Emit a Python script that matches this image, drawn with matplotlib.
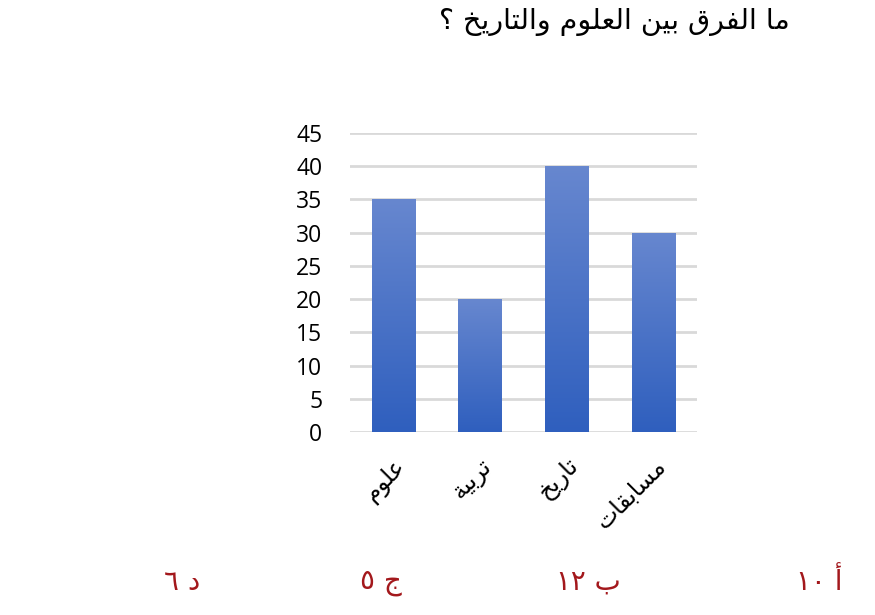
import matplotlib
matplotlib.use("Agg")
import matplotlib.pyplot as plt
import numpy as np

# data
categories = ["علوم", "تربية", "تاريخ", "مسابقات"]
values = [35, 20, 40, 30]
yticks = list(range(0, 50, 5))
title = "ما الفرق بين العلوم والتاريخ ؟"
options = [("أ", "١٠"), ("ب", "١٢"), ("ج", "٥"), ("د", "٦")]

# presentation forms: isolated, final, initial, medial (None = no joining to next)
FORMS = {
    "ا": (0xFE8D, 0xFE8E, None, None),
    "أ": (0xFE83, 0xFE84, None, None),
    "ب": (0xFE8F, 0xFE90, 0xFE91, 0xFE92),
    "ة": (0xFE93, 0xFE94, None, None),
    "ت": (0xFE95, 0xFE96, 0xFE97, 0xFE98),
    "ج": (0xFE9D, 0xFE9E, 0xFE9F, 0xFEA0),
    "خ": (0xFEA5, 0xFEA6, 0xFEA7, 0xFEA8),
    "د": (0xFEA9, 0xFEAA, None, None),
    "ر": (0xFEAD, 0xFEAE, None, None),
    "س": (0xFEB1, 0xFEB2, 0xFEB3, 0xFEB4),
    "ع": (0xFEC9, 0xFECA, 0xFECB, 0xFECC),
    "ف": (0xFED1, 0xFED2, 0xFED3, 0xFED4),
    "ق": (0xFED5, 0xFED6, 0xFED7, 0xFED8),
    "ل": (0xFEDD, 0xFEDE, 0xFEDF, 0xFEE0),
    "م": (0xFEE1, 0xFEE2, 0xFEE3, 0xFEE4),
    "ن": (0xFEE5, 0xFEE6, 0xFEE7, 0xFEE8),
    "و": (0xFEED, 0xFEEE, None, None),
    "ي": (0xFEF1, 0xFEF2, 0xFEF3, 0xFEF4),
}


def shape(text):
    # joins arabic letters and flips to visual order (no bidi lib offline)
    out = []
    for i, ch in enumerate(text):
        if ch not in FORMS:
            out.append(ch)
            continue
        prev = text[i - 1] if i > 0 else ""
        nxt = text[i + 1] if i + 1 < len(text) else ""
        jp = prev in FORMS and FORMS[prev][2] is not None
        jn = FORMS[ch][2] is not None and nxt in FORMS
        iso, fin, ini, med = FORMS[ch]
        if jp and jn:
            code = med
        elif jp:
            code = fin
        elif jn:
            code = ini
        else:
            code = iso
        out.append(chr(code))
    return "".join(reversed(out))


plt.rcParams['font.family'] = ['Open Sans', 'DejaVu Sans']

fig = plt.figure(figsize=(8.75, 6.15), dpi=100)
ax = fig.add_axes([0.4, 0.2976, 0.3966, 0.4861])

x = np.arange(len(categories))
bars = ax.bar(x, values, width=0.5, color="#4472c4", zorder=2)

# vertical gradient inside every bar
grad = np.linspace(0, 1, 256).reshape(-1, 1)
cmap = matplotlib.colors.LinearSegmentedColormap.from_list("g", ["#2f5fbe", "#6787cf"])
for b in bars:
    x0, y0, w, h = b.get_x(), b.get_y(), b.get_width(), b.get_height()
    im = ax.imshow(grad, extent=[x0, x0 + w, y0, y0 + h], origin="lower",
                   cmap=cmap, aspect="auto", zorder=3)
    im.set_clip_path(b)

ax.set_xlim(-0.5, len(categories) - 0.5)
ax.set_ylim(0, 45)
ax.set_yticks(yticks)
ax.yaxis.grid(True, color="#d9d9d9", linewidth=2, zorder=0)
for s in ax.spines.values():
    s.set_visible(False)
ax.tick_params(axis="y", length=0, pad=20, labelsize=16.5)
ax.tick_params(axis="x", length=0, pad=16)
ax.set_xticks(x)
ax.set_xticklabels([shape(c) for c in categories], rotation=45, ha="right",
                   rotation_mode="anchor", fontsize=17, family=['DejaVu Sans'])

fig.text(0.903, 0.965, shape(title), ha="right", va="center", fontsize=20.5,
         family=['DejaVu Sans'])

opt_x = [0.963, 0.709, 0.459, 0.229]
for (letter, num), ox in zip(options, opt_x):
    fig.text(ox, 0.054, num + " " + letter, ha="right", va="center",
             fontsize=20, color="#a3181c", family=['DejaVu Sans'])

plt.savefig("out.png", dpi=100)
